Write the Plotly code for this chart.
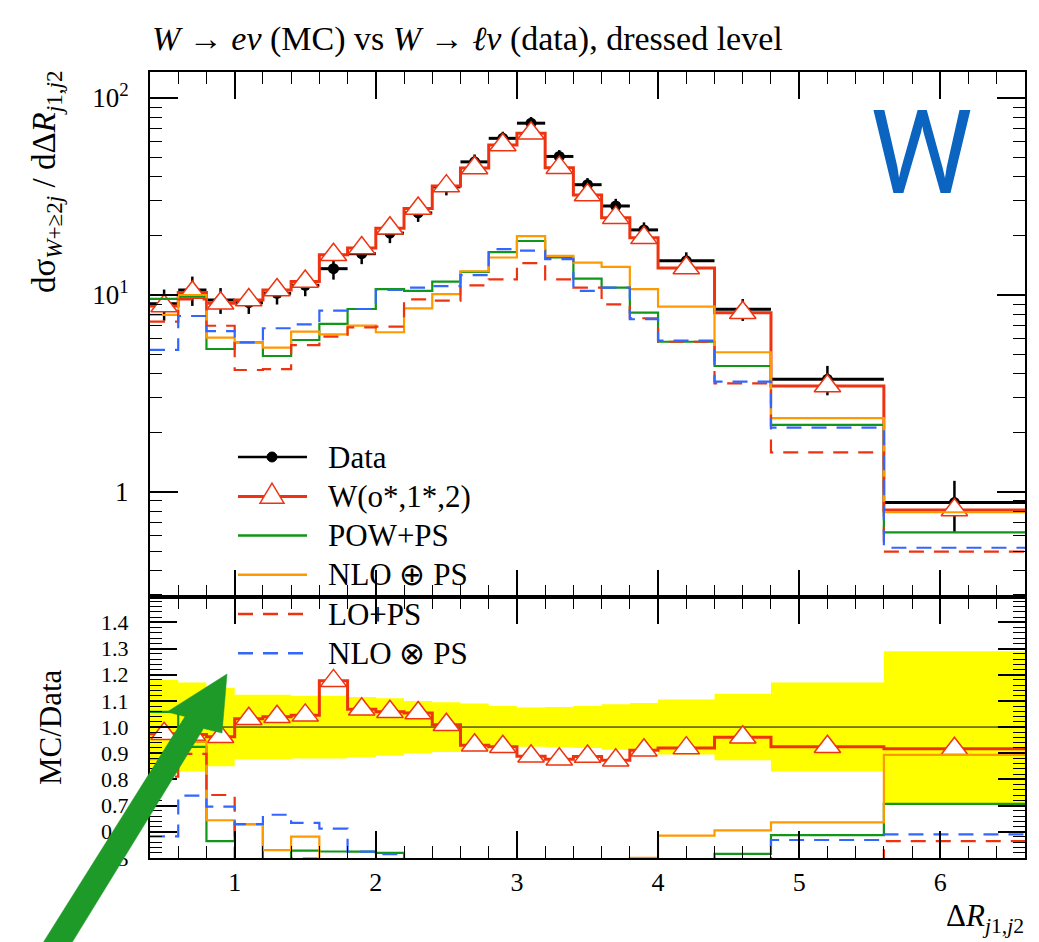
import numpy as np
import plotly.graph_objects as go

# ---------------- data ----------------
edges = [0.4, 0.6, 0.8, 1.0, 1.2, 1.4, 1.6, 1.8, 2.0, 2.2, 2.4, 2.6, 2.8, 3.0, 3.2,
         3.4, 3.6, 3.8, 4.0, 4.4, 4.8, 5.6, 6.6]
data = [9.03, 10.6, 9.43, 9.14, 10.2, 11.2, 13.6, 16.2, 20.6, 26.1, 35.4, 47.4, 62.4,
        74.5, 50.5, 36.3, 28.3, 21.4, 14.9, 8.46, 3.73, 0.883]
data_relerr = [0.18, 0.17, 0.15, 0.123, 0.123, 0.12, 0.12, 0.115, 0.11, 0.10, 0.095,
               0.09, 0.08, 0.075, 0.077, 0.08, 0.087, 0.092, 0.105, 0.127, 0.17, 0.29]
w_mc = [8.80, 10.3, 9.08, 9.43, 10.6, 11.7, 16.0, 17.3, 21.8, 27.5, 35.7, 44.1, 57.7,
        66.2, 44.3, 32.2, 24.7, 19.5, 13.7, 8.13, 3.45, 0.81]
pow_ps = [9.55, 9.8, 5.32, 5.75, 4.90, 5.91, 7.13, 8.49, 10.7, 10.5, 11.7, 13.1, 16.5,
          18.8, 15.5, 12.1, 10.9, 8.13, 5.79, 4.36, 2.19, 0.624]
nlo_oplus = [7.92, 10.0, 6.07, 5.75, 5.40, 6.51, 6.31, 6.99, 6.47, 8.56, 10.1, 13.2, 15.5,
             19.9, 15.8, 14.6, 13.9, 10.7, 8.72, 5.12, 2.37, 0.789]
lo_ps = [7.32, 9.51, 6.98, 4.16, 4.20, 5.57, 6.15, 6.85, 6.91, 9.51, 9.36, 11.2, 12.0,
         14.5, 12.0, 10.9, 8.97, 7.62, 5.79, 3.56, 1.59, 0.498]
nlo_otimes = [5.26, 7.82, 6.56, 5.75, 6.78, 7.10, 8.32, 8.49, 10.6, 10.9, 11.1, 12.6, 17.1,
              16.8, 15.2, 10.5, 10.9, 7.53, 5.86, 3.63, 2.12, 0.521]

series_names = ["W(o*,1*,2)", "POW+PS", "NLO ⊕ PS", "LO+PS", "NLO ⊗ PS"]
x_ticks = [1, 2, 3, 4, 5, 6]
y_ticks = [1, 10, 100]
y_ticktext = ["1", "10<sup>1</sup>", "10<sup>2</sup>"]

RED = "#EE3311"
GREEN = "#109618"
ORANGE = "#FF9900"
BLUE = "#3366FF"
FONT = "Liberation Serif"

# ---------------- derived ----------------
e = np.array(edges)
centers = 0.5 * (e[:-1] + e[1:])
halfw = 0.5 * (e[1:] - e[:-1])
d = np.array(data)
rel = np.array(data_relerr)


def step_y(v):
    v = list(v)
    return v + [v[-1]]


fig = go.Figure()

# ---- upper panel ----
fig.add_trace(go.Scatter(
    x=centers, y=d, mode="markers", xaxis="x", yaxis="y",
    marker=dict(symbol="circle", size=11, color="black"),
    error_x=dict(type="data", array=halfw, symmetric=True, color="black", thickness=3, width=0),
    error_y=dict(type="data", array=d * rel, symmetric=True, color="black", thickness=2.5, width=0),
    showlegend=False, hoverinfo="skip"))

fig.add_trace(go.Scatter(x=edges, y=step_y(w_mc), mode="lines", line_shape="hv",
                         line=dict(color=RED, width=3), xaxis="x", yaxis="y", showlegend=False))
fig.add_trace(go.Scatter(x=centers, y=w_mc, mode="markers", xaxis="x", yaxis="y",
                         marker=dict(symbol="triangle-up", size=23, color="white",
                                     line=dict(color=RED, width=1.5)), showlegend=False))

styles = [
    (pow_ps, GREEN, "solid", 2.2),
    (nlo_oplus, ORANGE, "solid", 2.2),
    (lo_ps, RED, "15px,10px", 2.2),
    (nlo_otimes, BLUE, "15px,10px", 2.2),
]
for vals, col, dash, wd in styles:
    fig.add_trace(go.Scatter(x=edges, y=step_y(vals), mode="lines", line_shape="hv",
                             line=dict(color=col, width=wd, dash=dash),
                             xaxis="x", yaxis="y", showlegend=False))

# ---- ratio panel ----
fig.add_trace(go.Scatter(x=edges, y=step_y(1 - rel), mode="lines", line_shape="hv",
                         line=dict(width=0, color="rgba(0,0,0,0)"), xaxis="x2", yaxis="y2",
                         showlegend=False, hoverinfo="skip"))
fig.add_trace(go.Scatter(x=edges, y=step_y(1 + rel), mode="lines", line_shape="hv",
                         line=dict(width=0, color="rgba(0,0,0,0)"), fill="tonexty",
                         fillcolor="#FFFF00", xaxis="x2", yaxis="y2",
                         showlegend=False, hoverinfo="skip"))
fig.add_trace(go.Scatter(x=[edges[0], edges[-1]], y=[1, 1], mode="lines",
                         line=dict(color="black", width=1), xaxis="x2", yaxis="y2",
                         showlegend=False))

r_w = np.array(w_mc) / d
fig.add_trace(go.Scatter(x=edges, y=step_y(r_w), mode="lines", line_shape="hv",
                         line=dict(color=RED, width=3), xaxis="x2", yaxis="y2", showlegend=False))
fig.add_trace(go.Scatter(x=centers, y=r_w, mode="markers", xaxis="x2", yaxis="y2",
                         marker=dict(symbol="triangle-up", size=23, color="white",
                                     line=dict(color=RED, width=1.5)), showlegend=False))
for vals, col, dash, wd in styles:
    fig.add_trace(go.Scatter(x=edges, y=step_y(np.array(vals) / d), mode="lines", line_shape="hv",
                             line=dict(color=col, width=wd, dash=dash),
                             xaxis="x2", yaxis="y2", showlegend=False))

# ---------------- layout ----------------
ML, MR, MT, MB = 150, 14, 72, 84
WID, HEI = 1039, 942
PW, PH = WID - ML - MR, HEI - MT - MB
split = (858 - 597) / PH


def PX(x):
    return (x - ML) / PW


def PY(y):
    return (HEI - MB - y) / PH


common_x = dict(range=[edges[0], edges[-1]], showgrid=False, zeroline=False, showline=True,
                linecolor="black", linewidth=2, mirror="allticks", ticks="inside", ticklen=27,
                tickwidth=1.5, tickcolor="black",
                minor=dict(dtick=0.2, tick0=0, ticks="inside", ticklen=12, tickwidth=1.2,
                           tickcolor="black", showgrid=False))

minor_log = [v * m for v in [0.1, 1, 10] for m in range(2, 10)]

fig.update_layout(
    width=WID, height=HEI, autosize=False,
    margin=dict(l=ML, r=MR, t=MT, b=MB),
    paper_bgcolor="white", plot_bgcolor="white",
    showlegend=False,
    xaxis=dict(**common_x, anchor="y", showticklabels=False, tickvals=x_ticks),
    yaxis=dict(type="log", domain=[split, 1], anchor="x",
               range=[np.log10(0.293), np.log10(135.5)],
               tickvals=y_ticks, ticktext=y_ticktext,
               tickfont=dict(family=FONT, size=27, color="black"),
               showgrid=False, zeroline=False, showline=True, linecolor="black", linewidth=2,
               mirror="allticks", ticks="inside", ticklen=28, tickwidth=1.5, tickcolor="black",
               ticklabelstandoff=14,
               minor=dict(tickmode="array", tickvals=minor_log, ticks="inside", ticklen=12,
                          tickwidth=1.2, tickcolor="black", showgrid=False)),
    xaxis2=dict(**common_x, anchor="y2", tickvals=x_ticks,
                tickfont=dict(family=FONT, size=26, color="black"),
                ticklabelstandoff=0),
    yaxis2=dict(domain=[0, split], anchor="x2", range=[0.4995, 1.497],
                tick0=0.5, dtick=0.1, tickformat=".1f",
                tickfont=dict(family=FONT, size=22, color="black"),
                showgrid=False, zeroline=False, showline=True, linecolor="black", linewidth=2,
                mirror="allticks", ticks="inside", ticklen=27, tickwidth=1.5, tickcolor="black",
                ticklabelstandoff=15,
                minor=dict(dtick=0.02, tick0=0.5, ticks="inside", ticklen=12, tickwidth=1.2,
                           tickcolor="black", showgrid=False)),
)

ann = []
ann.append(dict(text="<i>W</i> → <i>eν</i> (MC) vs <i>W</i> → <i>ℓν</i> (data), dressed level",
                x=PX(150), y=PY(39), xref="paper", yref="paper", xanchor="left", yanchor="middle",
                showarrow=False, font=dict(family=FONT, size=34, color="black")))
ann.append(dict(text="dσ<sub><i>W</i>+≥2<i>j</i></sub> / dΔ<i>R</i><sub><i>j</i>1,<i>j</i>2</sub>",
                x=PX(46), y=PY(182), xref="paper", yref="paper", xanchor="center", yanchor="middle",
                textangle=-90, showarrow=False, font=dict(family=FONT, size=33, color="black")))
ann.append(dict(text="MC/Data", x=PX(50), y=PY(727), xref="paper", yref="paper",
                xanchor="center", yanchor="middle", textangle=-90, showarrow=False,
                font=dict(family=FONT, size=31, color="black")))
ann.append(dict(text="Δ<i>R</i><sub><i>j</i>1,<i>j</i>2</sub>", x=PX(1026), y=PY(918),
                xref="paper", yref="paper", xanchor="right", yanchor="middle", showarrow=False,
                font=dict(family=FONT, size=31, color="black")))
ann.append(dict(text="W", x=PX(921), y=PY(153), xref="paper", yref="paper",
                xanchor="center", yanchor="middle", showarrow=False,
                font=dict(family="Roboto", size=116, color="#0A64C0", weight=400)))

# custom legend
rows = [457, 496.5, 535.5, 574.8, 614, 653.2]
labels = ["Data"] + series_names
shapes = []
leg_styles = [("black", "solid", 2.5), (RED, "solid", 3), (GREEN, "solid", 2.5),
              (ORANGE, "solid", 2.5), (RED, "15px,10px", 2.5), (BLUE, "15px,10px", 2.5)]
for yrow, lab, (col, dash, wd) in zip(rows, labels, leg_styles):
    shapes.append(dict(type="line", xref="paper", yref="paper", x0=PX(238), x1=PX(307),
                       y0=PY(yrow), y1=PY(yrow), line=dict(color=col, width=wd, dash=dash),
                       layer="above"))
    ann.append(dict(text=lab, x=PX(326), y=PY(yrow), xref="paper", yref="paper",
                    xanchor="left", yanchor="middle", showarrow=False,
                    font=dict(family=FONT, size=31, color="black")))
# legend data dot
shapes.append(dict(type="circle", xref="paper", yref="paper", x0=PX(267), x1=PX(277),
                   y0=PY(rows[0] - 5), y1=PY(rows[0] + 5), fillcolor="black",
                   line=dict(color="black", width=1), layer="above"))
# legend triangle
yc = rows[1]
tri = "M {},{} L {},{} L {},{} Z".format(PX(272), PY(yc - 13.3), PX(260), PY(yc + 6.7),
                                        PX(284), PY(yc + 6.7))
shapes.append(dict(type="path", path=tri, xref="paper", yref="paper", fillcolor="white",
                   line=dict(color=RED, width=1.5), layer="above"))

# green arrow (overlay graphic)
arrow_pts = [(227, 674), (222, 733), (203.5, 728.5), (57, 967), (36, 954),
             (185, 716.5), (167, 712)]
path = "M " + " L ".join("{},{}".format(PX(x), PY(y)) for x, y in arrow_pts) + " Z"
shapes.append(dict(type="path", path=path, xref="paper", yref="paper", fillcolor="#1D9A27",
                   line=dict(color="#1D9A27", width=0.5), layer="above"))

fig.update_layout(annotations=ann, shapes=shapes)
fig.write_html("out.html")
